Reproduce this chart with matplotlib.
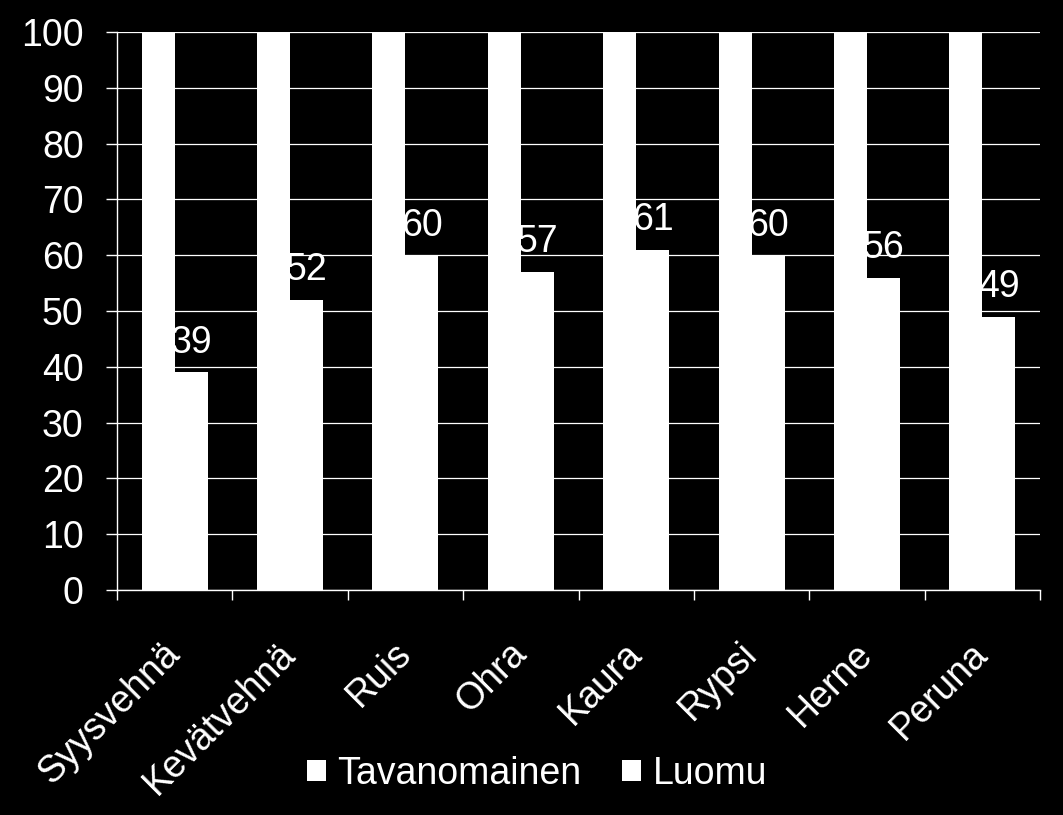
import numpy as np
from matplotlib import pyplot as plt

plt.rcParams['font.family'] = ['Liberation Sans', 'DejaVu Sans']

categories = ['Syysvehnä', 'Kevätvehnä', 'Ruis', 'Ohra', 'Kaura', 'Rypsi', 'Herne', 'Peruna']
tavanomainen = [100, 100, 100, 100, 100, 100, 100, 100]
luomu = [39, 52, 60, 57, 61, 60, 56, 49]
yticks = [0, 10, 20, 30, 40, 50, 60, 70, 80, 90, 100]

fs = 27
w = 2 / 7
x = np.arange(len(categories))

fig = plt.figure(figsize=(10.63, 8.15), dpi=100, facecolor='black')
ax = fig.add_axes([117 / 1063, 1 - 590 / 815, (1040 - 117) / 1063, (590 - 32) / 815])
ax.set_facecolor('black')

b1 = ax.bar(x - w / 2, tavanomainen, w, color='white', label='Tavanomainen', zorder=2)
b2 = ax.bar(x + w / 2, luomu, w, color='white', label='Luomu', zorder=2)

# value labels sit behind the bars, like the original
for xi, v in zip(x, luomu):
    ax.annotate(str(v), (xi + w / 2, v), xytext=(0, 14), textcoords='offset points',
                ha='center', va='baseline', color='white', fontsize=fs, zorder=1)

ax.set_xlim(-0.5, len(categories) - 0.5)
ax.set_ylim(0, 100)
ax.set_yticks(yticks)
ax.tick_params(axis='y', colors='white', labelsize=fs, length=8, width=1, pad=16)
ax.yaxis.grid(True, color='white', linewidth=0.9)
ax.set_axisbelow(True)

ax.set_xticks(np.arange(len(categories) + 1) - 0.5)
ax.set_xticklabels([])
ax.set_xticks(x, minor=True)
ax.set_xticklabels(categories, minor=True, rotation=45, ha='right', va='center',
                   rotation_mode='anchor', color='white', fontsize=fs)
ax.tick_params(axis='x', which='major', colors='white', length=7.5, width=1)
ax.tick_params(axis='x', which='minor', length=0, pad=42)

for s in ['top', 'right']:
    ax.spines[s].set_visible(False)
for s in ['left', 'bottom']:
    ax.spines[s].set_color('white')
    ax.spines[s].set_linewidth(1)

leg = fig.legend(handles=[b1, b2], loc='center', bbox_to_anchor=(537 / 1063, 1 - 774 / 815),
                 ncol=2, frameon=False, fontsize=fs, handlelength=0.5, handleheight=0.5,
                 handletextpad=0.3, columnspacing=1.1)
for t in leg.get_texts():
    t.set_color('white')

plt.savefig('out.png', dpi=100, facecolor='black')
